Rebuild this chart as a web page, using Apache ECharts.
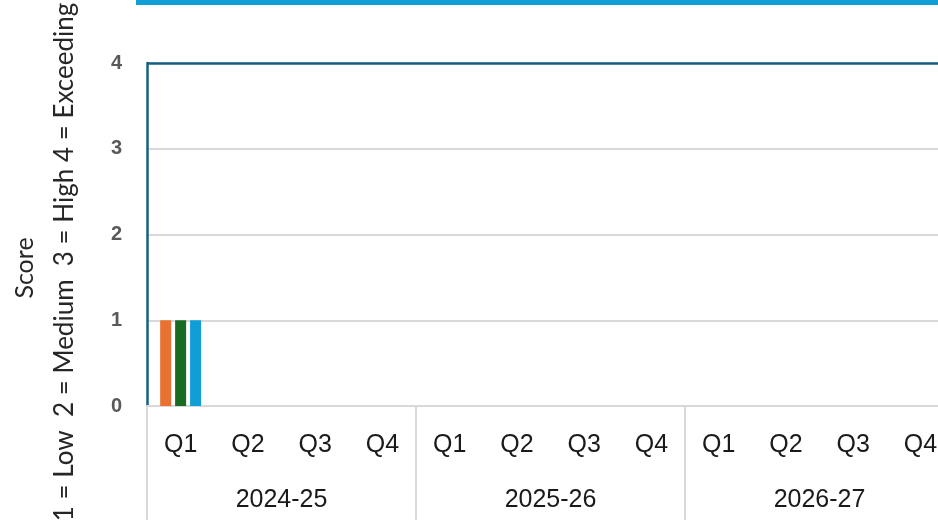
<!DOCTYPE html>
<html>
<head>
<meta charset="utf-8">
<script src="https://cdn.jsdelivr.net/npm/echarts@6/dist/echarts.min.js"></script>
<style>
  html, body { margin: 0; padding: 0; background: #fff; }
  #main { width: 938px; height: 531px; }
</style>
</head>
<body>
<div id="main"></div>
<script>
// 数据
var quarters = ['Q1', 'Q2', 'Q3', 'Q4', 'Q1', 'Q2', 'Q3', 'Q4', 'Q1', 'Q2', 'Q3', 'Q4'];
var years = ['2024-25', '2025-26', '2026-27'];
var seriesA = [1, null, null, null, null, null, null, null, null, null, null, null];
var seriesB = [1, null, null, null, null, null, null, null, null, null, null, null];
var seriesC = [1, null, null, null, null, null, null, null, null, null, null, null];
var yTicks = [0, 1, 2, 3, 4];

var myChart = echarts.init(document.getElementById('main'));

var option = {
  animation: false,
  // 图表右侧被截掉一部分, 所以宽度超出画布
  grid: { left: 147, width: 807, top: 63, height: 343, outerBoundsMode: 'none' },
  graphic: [
    {
      type: 'rect',
      shape: { x: 136, y: 0, width: 802, height: 5 },
      style: { fill: '#0F9ED5' }
    },
    {
      type: 'text',
      x: 25,
      y: 268,
      rotation: Math.PI / 2,
      style: { text: 'Score', font: '25px Lato', fill: '#262626', align: 'center', verticalAlign: 'middle' }
    },
    {
      type: 'text',
      x: 65,
      y: 262,
      rotation: Math.PI / 2,
      style: {
        text: '1 = Low  2 = Medium  3 = High 4 = Exceeding',
        font: '26px Lato', fill: '#262626', align: 'center', verticalAlign: 'middle'
      }
    }
  ],
  xAxis: [
    {
      type: 'category',
      data: quarters,
      position: 'bottom',
      axisLine: { lineStyle: { color: '#d9d9d9', width: 2 } },
      axisTick: { show: false },
      axisLabel: {
        color: '#1a1a1a',
        fontFamily: 'Liberation Sans',
        fontSize: 25,
        margin: 27
      }
    },
    {
      type: 'category',
      data: years,
      position: 'bottom',
      axisLine: { show: false },
      axisTick: {
        show: true,
        length: 114,
        lineStyle: { color: '#d9d9d9', width: 2 }
      },
      axisLabel: {
        color: '#1a1a1a',
        fontFamily: 'Liberation Sans',
        fontSize: 25,
        margin: 82
      }
    }
  ],
  yAxis: {
    type: 'value',
    min: 0,
    max: 4,
    interval: 1,
    axisLine: { show: true, lineStyle: { color: '#156082', width: 2.5 } },
    axisTick: { show: false },
    splitLine: { lineStyle: { color: '#d9d9d9', width: 2 } },
    axisLabel: {
      color: '#595959',
      fontWeight: 'bold',
      fontFamily: 'Liberation Sans',
      fontSize: 20,
      margin: 25,
      formatter: function (v) { return yTicks.indexOf(v) >= 0 ? String(v) : ''; }
    }
  },
  series: [
    {
      name: 'A', type: 'bar', data: seriesA, barWidth: 11, barGap: '36%',
      itemStyle: { color: '#E97132' },
      markLine: {
        silent: true, symbol: 'none', label: { show: false },
        lineStyle: { color: '#156082', width: 2.5, type: 'solid' },
        data: [{ yAxis: 4 }]
      }
    },
    { name: 'B', type: 'bar', data: seriesB, barWidth: 11, barGap: '36%', itemStyle: { color: '#196B24' } },
    { name: 'C', type: 'bar', data: seriesC, barWidth: 11, barGap: '36%', itemStyle: { color: '#0F9ED5' } }
  ]
};

myChart.setOption(option);
</script>
</body>
</html>
